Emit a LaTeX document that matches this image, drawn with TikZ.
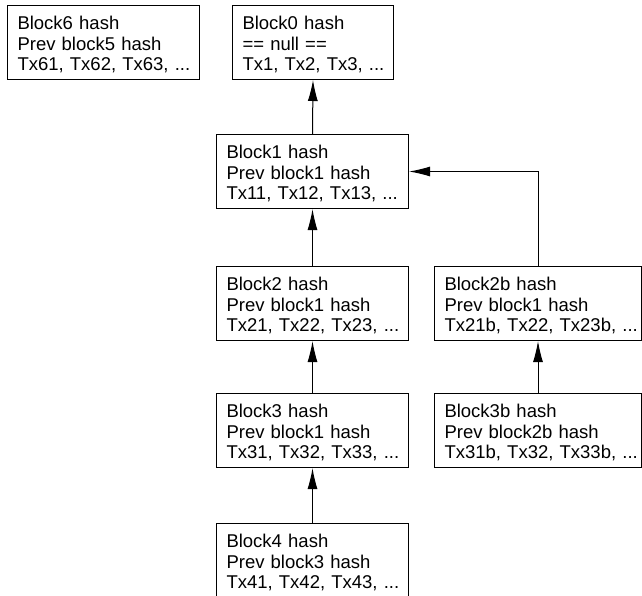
\documentclass[tikz,border=0pt]{standalone}
\usepackage{fontspec}
\setmainfont{Liberation Sans}
\usetikzlibrary{arrows.meta}
\newcommand\blocktext[3]{\mbox{#1}\\\mbox{#2}\\\mbox{#3}}
\begin{document}
\begin{tikzpicture}[x=1pt,y=-1pt,
  block/.style={draw, line width=1pt, anchor=north west, align=left,
    inner xsep=10pt, inner ysep=0pt, text height=24pt, text depth=50pt,
    font=\fontsize{18.5}{20.7}\selectfont},
  link/.style={draw, line width=1pt, -{Latex[length=21pt,width=10pt]}}]
\useasboundingbox (0,0) rectangle (642,595);
\clip (0,0) rectangle (642,595);
\node[block, text width=172pt] (b6) at (7,5) {\blocktext{Block6 hash}{Prev block5 hash}{Tx61, Tx62, Tx63, ...}};
\node[block, text width=141pt] (b0) at (232,5) {\blocktext{Block0 hash}{== null ==}{Tx1, Tx2, Tx3, ...}};
\node[block, text width=172pt] (b1) at (216,134) {\blocktext{Block1 hash}{Prev block1 hash}{Tx11, Tx12, Tx13, ...}};
\node[block, text width=172pt] (b2) at (216,266) {\blocktext{Block2 hash}{Prev block1 hash}{Tx21, Tx22, Tx23, ...}};
\node[block, text width=187pt] (b2b) at (434,266) {\blocktext{Block2b hash}{Prev block1 hash}{Tx21b, Tx22, Tx23b, ...}};
\node[block, text width=172pt] (b3) at (216,393) {\blocktext{Block3 hash}{Prev block1 hash}{Tx31, Tx32, Tx33, ...}};
\node[block, text width=187pt] (b3b) at (434,393) {\blocktext{Block3b hash}{Prev block2b hash}{Tx31b, Tx32, Tx33b, ...}};
\node[block, text width=172pt] (b4) at (216,523) {\blocktext{Block4 hash}{Prev block3 hash}{Tx41, Tx42, Tx43, ...}};
\draw[link] (b1.north) -- (b0.south);
\draw[link] (b2.north) -- (b1.south);
\draw[link] (b3.north) -- (b2.south);
\draw[link] (b4.north) -- (b3.south);
\draw[link] (b3b.north) -- (b2b.south);
\draw[link] (b2b.north) |- (b1.east);
\end{tikzpicture}
\end{document}
